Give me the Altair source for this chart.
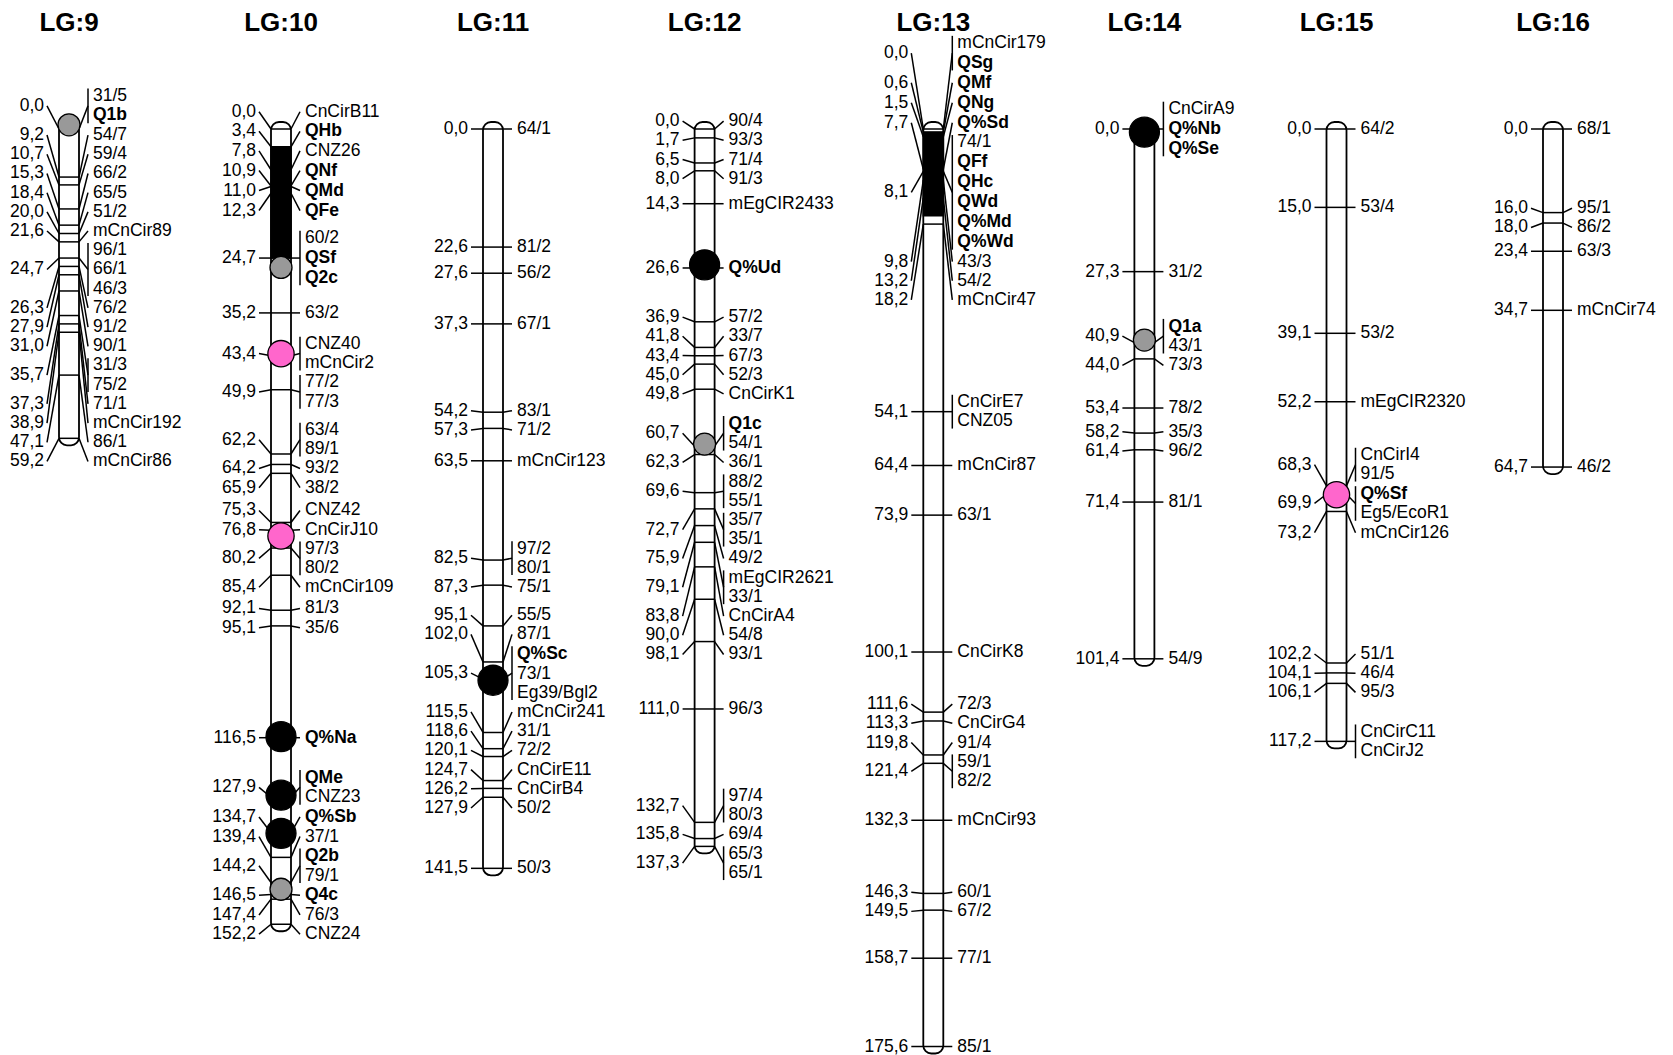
import altair as alt
import pandas as pd

# ---------------- data ----------------
LG_NAMES = ["LG:9", "LG:10", "LG:11", "LG:12", "LG:13", "LG:14", "LG:15", "LG:16"]

LG9_POS = [0.0, 9.2, 10.7, 15.3, 18.4, 20.0, 21.6, 24.7, 26.3, 27.9, 31.0, 35.7, 37.3, 38.9, 47.1, 59.2]
LG9_MARKERS = [["31/5", "Q1b"], ["54/7"], ["59/4"], ["66/2"], ["65/5"], ["51/2"], ["mCnCir89"],
               ["96/1", "66/1", "46/3"], ["76/2"], ["91/2"], ["90/1"], ["31/3", "75/2"], ["71/1"],
               ["mCnCir192"], ["86/1"], ["mCnCir86"]]

LG10_POS = [0.0, 3.4, 7.8, 10.9, 11.0, 12.3, 24.7, 35.2, 43.4, 49.9, 62.2, 64.2, 65.9, 75.3, 76.8,
            80.2, 85.4, 92.1, 95.1, 116.5, 127.9, 134.7, 139.4, 144.2, 146.5, 147.4, 152.2]
LG10_MARKERS = [["CnCirB11"], ["QHb"], ["CNZ26"], ["QNf"], ["QMd"], ["QFe"], ["60/2", "QSf", "Q2c"],
                ["63/2"], ["CNZ40", "mCnCir2"], ["77/2", "77/3"], ["63/4", "89/1"], ["93/2"], ["38/2"],
                ["CNZ42"], ["CnCirJ10"], ["97/3", "80/2"], ["mCnCir109"], ["81/3"], ["35/6"], ["Q%Na"],
                ["QMe", "CNZ23"], ["Q%Sb"], ["37/1"], ["Q2b", "79/1"], ["Q4c"], ["76/3"], ["CNZ24"]]

LG11_POS = [0.0, 22.6, 27.6, 37.3, 54.2, 57.3, 63.5, 82.5, 87.3, 95.1, 102.0, 105.3, 115.5, 118.6,
            120.1, 124.7, 126.2, 127.9, 141.5]
LG11_MARKERS = [["64/1"], ["81/2"], ["56/2"], ["67/1"], ["83/1"], ["71/2"], ["mCnCir123"], ["97/2", "80/1"],
                ["75/1"], ["55/5"], ["87/1"], ["Q%Sc", "73/1", "Eg39/Bgl2"], ["mCnCir241"], ["31/1"],
                ["72/2"], ["CnCirE11"], ["CnCirB4"], ["50/2"], ["50/3"]]

LG12_POS = [0.0, 1.7, 6.5, 8.0, 14.3, 26.6, 36.9, 41.8, 43.4, 45.0, 49.8, 60.7, 62.3, 69.6, 72.7, 75.9,
            79.1, 83.8, 90.0, 98.1, 111.0, 132.7, 135.8, 137.3]
LG12_MARKERS = [["90/4"], ["93/3"], ["71/4"], ["91/3"], ["mEgCIR2433"], ["Q%Ud"], ["57/2"], ["33/7"],
                ["67/3"], ["52/3"], ["CnCirK1"], ["Q1c", "54/1"], ["36/1"], ["88/2", "55/1"],
                ["35/7", "35/1"], ["49/2"], ["mEgCIR2621", "33/1"], ["CnCirA4"], ["54/8"], ["93/1"],
                ["96/3"], ["97/4", "80/3"], ["69/4"], ["65/3", "65/1"]]

LG13_POS = [0.0, 0.6, 1.5, 7.7, 8.1, 9.8, 13.2, 18.2, 54.1, 64.4, 73.9, 100.1, 111.6, 113.3, 119.8,
            121.4, 132.3, 146.3, 149.5, 158.7, 175.6]
LG13_MARKERS = [["mCnCir179", "QSg"], ["QMf"], ["QNg"], ["Q%Sd"],
                ["74/1", "QFf", "QHc", "QWd", "Q%Md", "Q%Wd"], ["43/3"], ["54/2"], ["mCnCir47"],
                ["CnCirE7", "CNZ05"], ["mCnCir87"], ["63/1"], ["CnCirK8"], ["72/3"], ["CnCirG4"],
                ["91/4"], ["59/1", "82/2"], ["mCnCir93"], ["60/1"], ["67/2"], ["77/1"], ["85/1"]]

LG14_POS = [0.0, 27.3, 40.9, 44.0, 53.4, 58.2, 61.4, 71.4, 101.4]
LG14_MARKERS = [["CnCirA9", "Q%Nb", "Q%Se"], ["31/2"], ["Q1a", "43/1"], ["73/3"], ["78/2"], ["35/3"],
                ["96/2"], ["81/1"], ["54/9"]]

LG15_POS = [0.0, 15.0, 39.1, 52.2, 68.3, 69.9, 73.2, 102.2, 104.1, 106.1, 117.2]
LG15_MARKERS = [["64/2"], ["53/4"], ["53/2"], ["mEgCIR2320"], ["CnCirI4", "91/5"], ["Q%Sf", "Eg5/EcoR1"],
                ["mCnCir126"], ["51/1"], ["46/4"], ["95/3"], ["CnCirC11", "CnCirJ2"]]

LG16_POS = [0.0, 16.0, 18.0, 23.4, 34.7, 64.7]
LG16_MARKERS = [["68/1"], ["95/1"], ["86/2"], ["63/3"], ["mCnCir74"], ["46/2"]]

ALL_POS = [LG9_POS, LG10_POS, LG11_POS, LG12_POS, LG13_POS, LG14_POS, LG15_POS, LG16_POS]
ALL_MARKERS = [LG9_MARKERS, LG10_MARKERS, LG11_MARKERS, LG12_MARKERS, LG13_MARKERS, LG14_MARKERS,
               LG15_MARKERS, LG16_MARKERS]

# QTL peaks drawn as circles
QTL_LG = ["LG:9", "LG:10", "LG:10", "LG:10", "LG:10", "LG:10", "LG:10", "LG:10",
          "LG:11", "LG:12", "LG:12", "LG:14", "LG:14", "LG:15"]
QTL_POS = [-0.8, 26.5, 43.0, 77.9, 116.3, 127.5, 134.8, 145.5,
           105.5, 26.0, 60.3, 0.6, 40.4, 70.0]
QTL_KIND = ["grey", "grey", "pink", "pink", "black", "black", "black", "grey",
            "black", "black", "grey", "black", "grey", "pink"]

# QTL intervals drawn as filled segments of the linkage group
INT_LG = ["LG:10", "LG:13"]
INT_START = [3.4, 0.6]
INT_END = [24.7, 16.6]

# ---------------- layout / style ----------------
LG_X = [69.0, 281.0, 493.0, 704.6, 933.3, 1144.4, 1336.5, 1553.0]   # page px of LG centres
PX_PER_CM = 5.225
ORIGIN_PAGE_Y = 129.0
W, H = 1657, 1039
Y_DOMAIN = [(8 - ORIGIN_PAGE_Y) / PX_PER_CM, (8 + H - ORIGIN_PAGE_Y) / PX_PER_CM]
H_NORMAL = 19.2 / PX_PER_CM
H_BOLD = 20.0 / PX_PER_CM
CAP_CM = 7.0 / PX_PER_CM
HW = 10
FONT = "Liberation Sans"
FS = 17.5
KIND_COLOR = {"grey": "#999999", "pink": "#ff66cc", "black": "#000000"}
KIND_SIZE = {"grey": 484, "pink": 900, "black": 484}


def is_bold(name):
    return name.startswith("Q")


def spread(pos, hts):
    n = len(pos)
    clusters = [[i] for i in range(n)]

    def place(cl):
        offs = [0.0]
        for a, b in zip(cl[:-1], cl[1:]):
            offs.append(offs[-1] + (hts[a] + hts[b]) / 2)
        first = (pos[cl[0]] + pos[cl[-1]] - offs[-1]) / 2
        return [first + o for o in offs]

    while True:
        placed = [place(c) for c in clusters]
        merged = False
        for k in reversed(range(len(clusters) - 1)):
            a, b = clusters[k], clusters[k + 1]
            bottom = placed[k][-1] + hts[a[-1]] / 2
            top = placed[k + 1][0] - hts[b[0]] / 2
            if bottom > top + 1e-9:
                clusters[k] = a + b
                del clusters[k + 1]
                merged = True
                break
        if not merged:
            break
    centers = [0.0] * n
    for c, pl in zip(clusters, placed):
        for i, y in zip(c, pl):
            centers[i] = y
    return centers


bars, segs, ltext, rtext, titles = [], [], [], [], []
for name, cx, pos, marks in zip(LG_NAMES, LG_X, ALL_POS, ALL_MARKERS):
    titles.append({"t": name, "x": cx})
    bars.append({"x": cx - HW, "x2": cx + HW, "y": min(pos) - CAP_CM, "y2": max(pos) + CAP_CM})
    item_h = [[H_BOLD if is_bold(nm) else H_NORMAL for nm in m] for m in marks]
    hts = [sum(h) for h in item_h]
    centers = spread(pos, hts)
    for p, m, ih, c in zip(pos, marks, item_h, centers):
        segs.append({"x": cx - HW, "y": p, "x2": cx + HW, "y2": p})
        segs.append({"x": cx - 22, "y": c, "x2": cx - HW, "y2": p})
        segs.append({"x": cx + HW, "y": p, "x2": cx + 19, "y2": c})
        top = c - sum(ih) / 2
        if len(m) > 1:
            inset = 0.12 * H_NORMAL
            segs.append({"x": cx + 19, "y": top + inset, "x2": cx + 19, "y2": top + sum(ih) - inset})
        ltext.append({"x": cx - 25, "y": c, "t": f"{p:.1f}".replace(".", ",")})
        acc = top
        for nm, h in zip(m, ih):
            rtext.append({"x": cx + 24, "y": acc + h / 2, "t": nm, "b": is_bold(nm)})
            acc += h

lgx = dict(zip(LG_NAMES, LG_X))
ints = [{"x": lgx[g] - HW, "x2": lgx[g] + HW, "y": s, "y2": e} for g, s, e in zip(INT_LG, INT_START, INT_END)]
qtls = [{"x": lgx[g], "y": p, "k": k} for g, p, k in zip(QTL_LG, QTL_POS, QTL_KIND)]

xs = alt.Scale(domain=[8, 8 + W], nice=False, zero=False)
ys = alt.Scale(domain=Y_DOMAIN, reverse=True, nice=False, zero=False)
X = alt.X("x:Q", scale=xs, axis=None)
Y = alt.Y("y:Q", scale=ys, axis=None)

bar_layer = alt.Chart(pd.DataFrame(bars)).mark_rect(
    fill="white", stroke="black", strokeWidth=1.8, cornerRadius=8
).encode(x=X, x2="x2:Q", y=Y, y2="y2:Q")

int_layer = alt.Chart(pd.DataFrame(ints)).mark_rect(
    fill="black", stroke="black", strokeWidth=1.5
).encode(x=X, x2="x2:Q", y=Y, y2="y2:Q")

seg_layer = alt.Chart(pd.DataFrame(segs)).mark_rule(
    color="black", strokeWidth=1.5
).encode(x=X, x2="x2:Q", y=Y, y2="y2:Q")

qdf = pd.DataFrame(qtls)
qtl_layer = alt.Chart(qdf).mark_point(
    shape="circle", filled=True, stroke="black", strokeWidth=1.3, opacity=1
).encode(
    x=X, y=Y,
    fill=alt.Fill("k:N", scale=alt.Scale(domain=list(KIND_COLOR), range=list(KIND_COLOR.values())), legend=None),
    size=alt.Size("k:N", scale=alt.Scale(domain=list(KIND_SIZE), range=list(KIND_SIZE.values())), legend=None),
)

lt_layer = alt.Chart(pd.DataFrame(ltext)).mark_text(
    align="right", baseline="middle", font=FONT, fontSize=FS, color="black"
).encode(x=X, y=Y, text="t:N")

rdf = pd.DataFrame(rtext)
rt_layer = alt.Chart(rdf[~rdf.b]).mark_text(
    align="left", baseline="middle", font=FONT, fontSize=FS, color="black"
).encode(x=X, y=Y, text="t:N")
rtb_layer = alt.Chart(rdf[rdf.b]).mark_text(
    align="left", baseline="middle", font=FONT, fontSize=FS, fontWeight="bold", color="black"
).encode(x=X, y=Y, text="t:N")

title_layer = alt.Chart(pd.DataFrame(titles)).mark_text(
    align="center", baseline="alphabetic", font=FONT, fontSize=26, fontWeight="bold", color="black"
).encode(x=X, y=alt.value(23.0), text="t:N")

chart = alt.layer(
    bar_layer, int_layer, seg_layer, qtl_layer, lt_layer, rt_layer, rtb_layer, title_layer
).properties(width=W, height=H, padding=0, background="white").configure_view(stroke=None)

chart.save("out.html", embed_options={"renderer": "svg", "actions": False})
